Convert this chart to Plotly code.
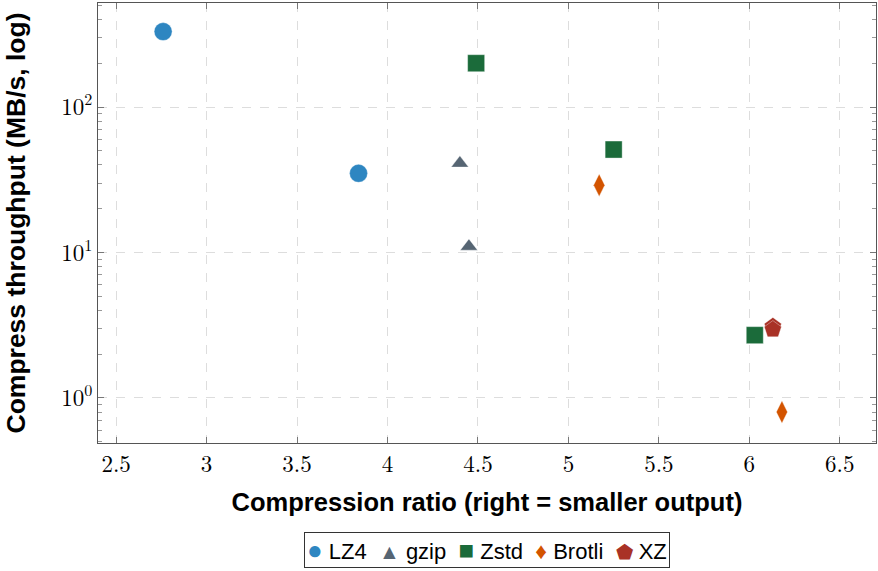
import plotly.graph_objects as go

# ---- data ----
lz4_ratio = [2.76, 3.84]
lz4_mbps = [330, 35]
gzip_ratio = [4.40, 4.45]
gzip_mbps = [41, 11]
zstd_ratio = [4.49, 5.25, 6.03]
zstd_mbps = [200, 51, 2.7]
brotli_ratio = [5.17, 6.18]
brotli_mbps = [29, 0.8]
xz_ratio = [6.13, 6.13]
xz_mbps = [3.1, 2.95]

x_ticks = [2.5, 3, 3.5, 4, 4.5, 5, 5.5, 6, 6.5]
x_tick_labels = ["2.5", "3", "3.5", "4", "4.5", "5", "5.5", "6", "6.5"]
y_ticks = [1, 10, 100]
y_tick_labels = ["10<sup>0</sup>", "10<sup>1</sup>", "10<sup>2</sup>"]
y_minor = [0.5, 0.6, 0.7, 0.8, 0.9, 2, 3, 4, 5, 6, 7, 8, 9,
           20, 30, 40, 50, 60, 70, 80, 90, 200, 300, 400, 500]

series = [
    ("LZ4", lz4_ratio, lz4_mbps, "circle", "#2E86C1", 18, "●", 26),
    ("gzip", gzip_ratio, gzip_mbps, "triangle-up", "#566573", 15, "▲", 21),
    ("Zstd", zstd_ratio, zstd_mbps, "square", "#1B6B3A", 17, "■", 26),
    ("Brotli", brotli_ratio, brotli_mbps, "diamond-tall", "#D35400", 16, "♦", 23),
    ("XZ", xz_ratio, xz_mbps, "pentagon", "#A93226", 18, "⬟", 20),
]

fig = go.Figure()
for name, xs, ys, sym, col, sz, glyph, gsz in series:
    fig.add_trace(go.Scatter(
        x=xs, y=ys, mode="markers", name=name, showlegend=False,
        marker=dict(symbol=sym, color=col, size=sz,
                    line=dict(width=0.6, color="rgba(255,255,255,0.6)")),
    ))

# compact legend built from the series names / colours
legend_html = "&nbsp; ".join(
    f'<span style="color:{col};font-size:{gsz}px">{glyph}</span> {name}'
    for name, xs, ys, sym, col, sz, glyph, gsz in series
)

serif = "Latin Modern Roman, CMU Serif, Liberation Serif, serif"
sans = "Liberation Sans, Arial, sans-serif"

fig.add_annotation(
    xref="paper", yref="paper", x=0.5, y=-0.203, xanchor="center", yanchor="top",
    text=legend_html, showarrow=False,
    font=dict(family=sans, size=22, color="black"),
    bordercolor="#333", borderwidth=1, borderpad=2, bgcolor="white",
)

fig.update_layout(
    width=878, height=571,
    margin=dict(l=98, r=2, t=3, b=128),
    plot_bgcolor="white", paper_bgcolor="white",
    showlegend=False,
    xaxis=dict(
        range=[2.4, 6.7], automargin=False,
        tickmode="array", tickvals=x_ticks, ticktext=x_tick_labels,
        ticks="inside", ticklen=6, tickcolor="#777", tickwidth=1,
        showline=True, linecolor="#555", linewidth=1.2, mirror="ticks",
        showgrid=True, gridcolor="#dddddd", griddash="dash", gridwidth=1,
        zeroline=False,
        tickfont=dict(family=serif, size=23, color="black"),
        title=dict(text="<b>Compression ratio (right = smaller output)</b>",
                   font=dict(family=sans, size=25.5, color="black"), standoff=15),
    ),
    yaxis=dict(
        type="log", range=[-0.31, 2.715], automargin=False,
        tickmode="array", tickvals=y_ticks, ticktext=y_tick_labels,
        ticks="inside", ticklen=6, tickcolor="#777", tickwidth=1,
        minor=dict(tickmode="array", tickvals=y_minor, ticks="inside",
                   ticklen=4, tickcolor="#999", showgrid=False),
        showline=True, linecolor="#555", linewidth=1.2, mirror="ticks",
        showgrid=True, gridcolor="#dddddd", griddash="dash", gridwidth=1,
        zeroline=False,
        tickfont=dict(family=serif, size=23, color="black"),
        title=dict(text="<b>Compress throughput (MB/s, log)</b>",
                   font=dict(family=sans, size=26.5, color="black"), standoff=27),
    ),
)

fig.write_html("out.html", config={"displayModeBar": False},
               post_script="document.body.style.margin='0';")
